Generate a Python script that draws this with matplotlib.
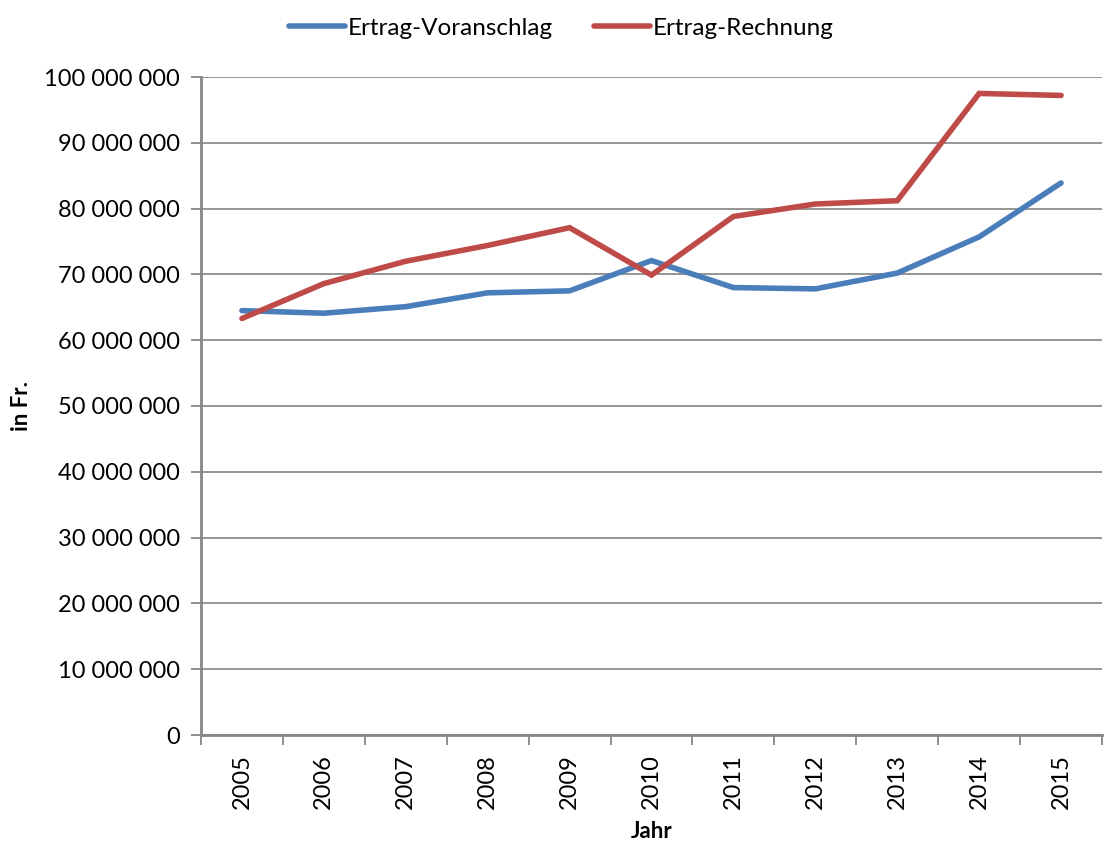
import matplotlib.pyplot as plt
import matplotlib.ticker as mticker

plt.rcParams['font.family'] = ['Lato', 'DejaVu Sans']

jahre = ['2005', '2006', '2007', '2008', '2009', '2010',
         '2011', '2012', '2013', '2014', '2015']
voranschlag = [64.5, 64.1, 65.1, 67.2, 67.5, 72.1,
               68.0, 67.8, 70.2, 75.7, 83.9]
rechnung = [63.3, 68.6, 72.0, 74.4, 77.1, 69.9,
            78.8, 80.7, 81.2, 97.5, 97.2]
voranschlag = [v * 1e6 for v in voranschlag]
rechnung = [v * 1e6 for v in rechnung]

fig = plt.figure(figsize=(11.05, 8.44), dpi=100)
ax = fig.add_axes([201 / 1105, 109 / 844, 901 / 1105, 658 / 844])

x = list(range(len(jahre)))
ax.plot(x, voranschlag, color='#4a7ebb', lw=4, solid_capstyle='round',
        solid_joinstyle='miter', label='Ertrag-Voranschlag', zorder=3)
ax.plot(x, rechnung, color='#be4b48', lw=4, solid_capstyle='round',
        solid_joinstyle='miter', label='Ertrag-Rechnung', zorder=3)

ax.set_xlim(-0.5, len(jahre) - 0.5)
ax.set_ylim(0, 100e6)
ax.set_yticks(range(0, 100_000_001, 10_000_000))
ax.yaxis.set_major_formatter(mticker.FuncFormatter(
    lambda v, p: f'{int(v):,}'.replace(',', ' ')))
ax.grid(axis='y', color='#8c8c8c', lw=1.3)
ax.set_axisbelow(True)

# category ticks sit between years, labels centred in each bin
ax.set_xticks([i - 0.5 for i in range(len(jahre) + 1)])
ax.set_xticklabels([])
ax.set_xticks(x, minor=True)
ax.set_xticklabels(jahre, minor=True, rotation=90, fontsize=17)
ax.tick_params(axis='x', which='minor', length=0, pad=14)
ax.tick_params(axis='x', which='major', length=7, width=1.3, color='#868686')
ax.tick_params(axis='y', length=7, width=1.3, color='#868686', labelsize=17, pad=8)

for s in ['top', 'right']:
    ax.spines[s].set_visible(False)
for s in ['left', 'bottom']:
    ax.spines[s].set_color('#868686')
    ax.spines[s].set_linewidth(2)

ax.set_xlabel('Jahr', fontsize=16, fontweight='bold', labelpad=8)
ax.set_ylabel('in Fr.', fontsize=16, fontweight='bold', labelpad=9)

fig.legend(loc='upper center', bbox_to_anchor=(0.508, 1.005), ncol=2,
           frameon=False, fontsize=17.5, handlelength=2.3, handletextpad=0.1,
           columnspacing=1.7)

fig.savefig('out.png', dpi=100)
